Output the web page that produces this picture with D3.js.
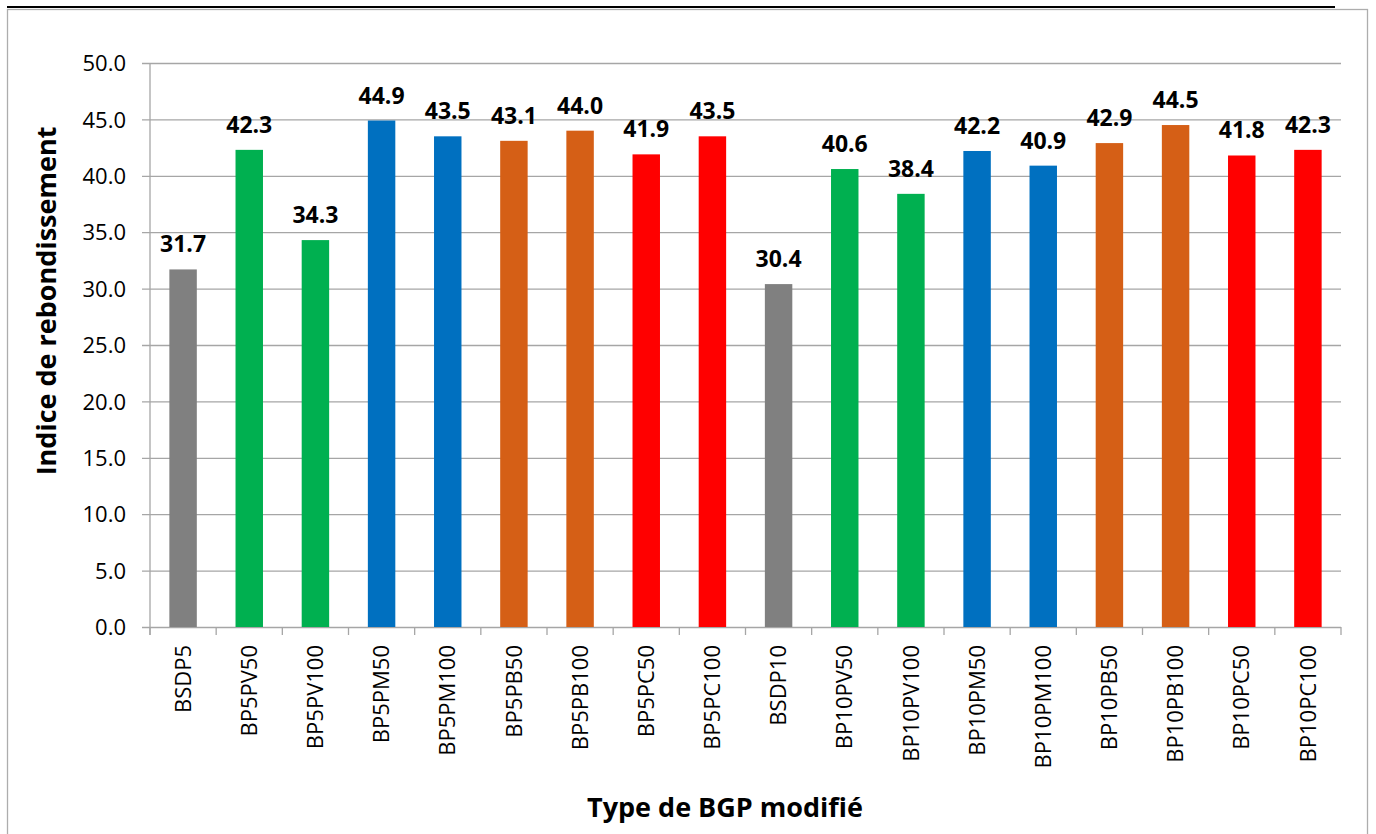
<!DOCTYPE html>
<html>
<head>
<meta charset="utf-8">
<script src="https://cdn.jsdelivr.net/npm/d3@7"></script>
<style>
  html, body { margin: 0; padding: 0; background: #fff; }
  svg { display: block; }
  text { font-family: "Open Sans", "Liberation Sans", sans-serif; fill: #000; }
</style>
</head>
<body>
<svg id="chart" width="1376" height="834"></svg>
<script>
// Bar categories (mix types), in display order
const categories = [
  "BSDP5", "BP5PV50", "BP5PV100", "BP5PM50", "BP5PM100", "BP5PB50", "BP5PB100", "BP5PC50", "BP5PC100",
  "BSDP10", "BP10PV50", "BP10PV100", "BP10PM50", "BP10PM100", "BP10PB50", "BP10PB100", "BP10PC50", "BP10PC100"
];
// Rebound index for each mix
const values = [31.7, 42.3, 34.3, 44.9, 43.5, 43.1, 44.0, 41.9, 43.5,
                30.4, 40.6, 38.4, 42.2, 40.9, 42.9, 44.5, 41.8, 42.3];
// Additive group of each mix (drives bar colour)
const groups = ["ref", "PV", "PV", "PM", "PM", "PB", "PB", "PC", "PC",
                "ref", "PV", "PV", "PM", "PM", "PB", "PB", "PC", "PC"];
const groupNames = ["ref", "PV", "PM", "PB", "PC"];
const groupColors = ["#808080", "#00B050", "#0070C0", "#D55F16", "#FF0000"];
const yTicks = [0, 5, 10, 15, 20, 25, 30, 35, 40, 45, 50];

const svg = d3.select("#chart");
const plot = { left: 150, top: 63, right: 1341, bottom: 627 };

// Outer frame
svg.append("rect")
  .attr("x", 7.5).attr("y", 9.5)
  .attr("width", 1360).attr("height", 840)
  .attr("fill", "none").attr("stroke", "#ADADAD").attr("stroke-width", 1.3);
svg.append("line")
  .attr("x1", 7).attr("x2", 1335).attr("y1", 7).attr("y2", 7)
  .attr("stroke", "#000").attr("stroke-width", 2.2);

const x = d3.scaleBand().domain(categories).range([plot.left, plot.right]).paddingInner(0.585).paddingOuter(0.2925);
const xEdges = d3.scaleBand().domain(categories).range([plot.left, plot.right]).padding(0);
const y = d3.scaleLinear().domain([0, 50]).range([plot.bottom, plot.top]);
const color = d3.scaleOrdinal().domain(groupNames).range(groupColors);

// Horizontal gridlines and y axis
const yAxis = d3.axisLeft(y).tickValues(yTicks).tickFormat(d3.format(".1f"))
  .tickSize(-(plot.right - plot.left + 8)).tickPadding(0);
const gy = svg.append("g").attr("transform", `translate(${plot.left},0)`).call(yAxis);
gy.select(".domain").remove();
gy.selectAll(".tick line").attr("stroke", "#A6A6A6").attr("stroke-width", 1.3)
  .attr("x1", -8).attr("x2", plot.right - plot.left);
gy.selectAll(".tick text").attr("x", -24).attr("dy", "0.35em")
  .attr("font-size", 22).style("font-family", '"Open Sans", sans-serif');

// Vertical axis line
svg.append("line")
  .attr("x1", plot.left).attr("x2", plot.left)
  .attr("y1", plot.top).attr("y2", plot.bottom + 8)
  .attr("stroke", "#A6A6A6").attr("stroke-width", 1.3);

// Category separator ticks below the baseline
const edges = categories.map(c => xEdges(c)).concat([plot.right]);
svg.append("g").selectAll("line").data(edges).join("line")
  .attr("x1", d => d).attr("x2", d => d)
  .attr("y1", plot.bottom).attr("y2", plot.bottom + 8)
  .attr("stroke", "#A6A6A6").attr("stroke-width", 1.3);

// Bars
svg.append("g").selectAll("rect").data(categories).join("rect")
  .attr("x", d => x(d))
  .attr("width", x.bandwidth())
  .attr("y", (d, i) => y(values[i]))
  .attr("height", (d, i) => y(0) - y(values[i]))
  .attr("fill", (d, i) => color(groups[i]));

// Value labels
svg.append("g").selectAll("text").data(categories).join("text")
  .attr("x", d => x(d) + x.bandwidth() / 2)
  .attr("y", (d, i) => y(values[i]) - 17)
  .attr("text-anchor", "middle")
  .attr("font-size", 23).attr("font-weight", "bold")
  .text((d, i) => values[i].toFixed(1));

// Rotated category labels
svg.append("g").selectAll("text").data(categories).join("text")
  .attr("transform", d => `translate(${x(d) + x.bandwidth() / 2},645) rotate(-90)`)
  .attr("text-anchor", "end")
  .attr("dy", "0.35em")
  .attr("font-size", 22)
  .text(d => d);

// Axis titles
svg.append("text")
  .attr("x", 725)
  .attr("y", 817)
  .attr("text-anchor", "middle")
  .attr("font-size", 27).attr("font-weight", "bold")
  .text("Type de BGP modifié");

svg.append("text")
  .attr("transform", "translate(47,301) rotate(-90)")
  .attr("text-anchor", "middle")
  .attr("dy", "0.35em")
  .attr("font-size", 27).attr("font-weight", "bold")
  .text("Indice de rebondissement");
</script>
</body>
</html>
